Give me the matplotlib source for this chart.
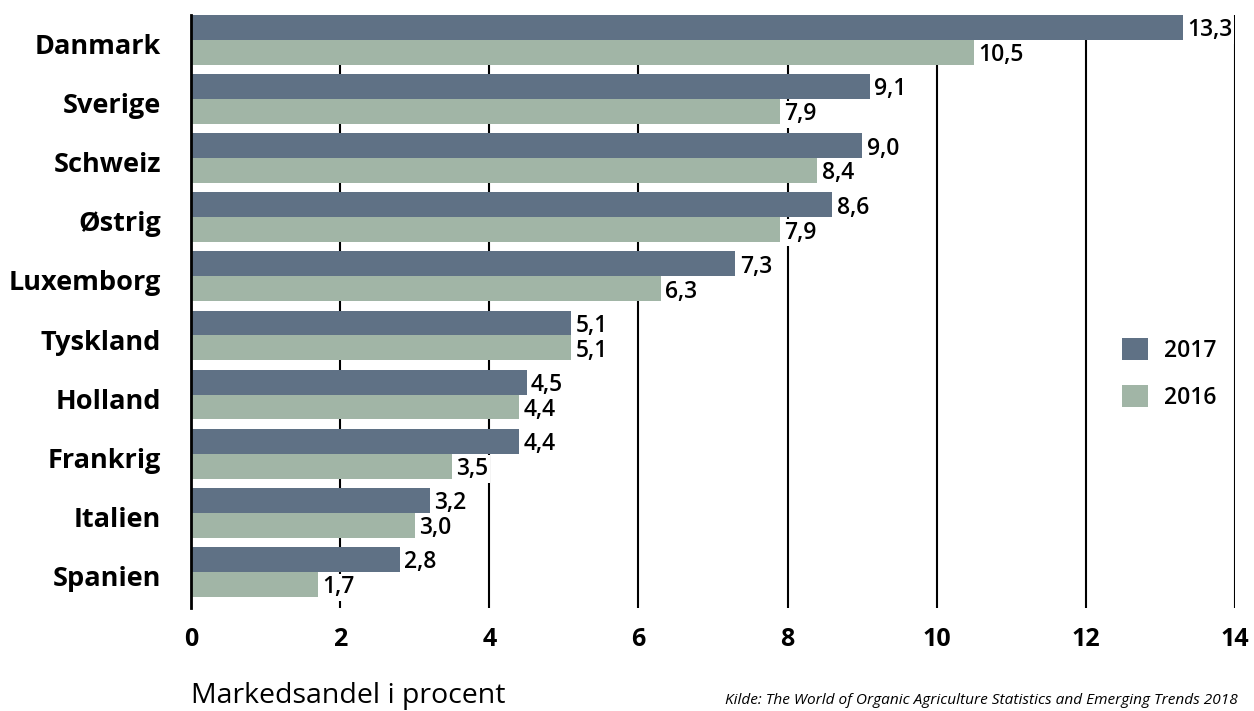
import numpy as np
import matplotlib.pyplot as plt

# data
countries = ["Danmark", "Sverige", "Schweiz", "Østrig", "Luxemborg",
             "Tyskland", "Holland", "Frankrig", "Italien", "Spanien"]
share_2017 = [13.3, 9.1, 9.0, 8.6, 7.3, 5.1, 4.5, 4.4, 3.2, 2.8]
share_2016 = [10.5, 7.9, 8.4, 7.9, 6.3, 5.1, 4.4, 3.5, 3.0, 1.7]
x_ticks = [0, 2, 4, 6, 8, 10, 12, 14]

col_2017 = "#5f7185"
col_2016 = "#a1b5a6"

plt.rcParams['font.family'] = ['Open Sans', 'DejaVu Sans']

fig = plt.figure(figsize=(12.54, 7.11), dpi=100)
ax = fig.add_axes([191 / 1254, 1 - 608 / 711, (1235 - 191) / 1254, (608 - 15) / 711])

y = np.arange(len(countries))
h = 0.42

# gridlines behind the bars
for xv in x_ticks[1:]:
    ax.axvline(xv, color="black", lw=1.5, zorder=0)

ax.barh(y - h / 2, share_2017, height=h, color=col_2017, label="2017", zorder=2)
ax.barh(y + h / 2, share_2016, height=h, color=col_2016, label="2016", zorder=2)

def fmt(v):
    return f"{v:.1f}".replace(".", ",")

# value labels with white boxes that hide the gridlines
for ys, vals in [(y - h / 2, share_2017), (y + h / 2, share_2016)]:
    for yi, v in zip(ys, vals):
        ax.text(v + 0.06, yi + 0.05, fmt(v), va="center", ha="left", fontsize=16.5,
                fontweight="semibold", zorder=3,
                bbox=dict(facecolor="white", edgecolor="none", pad=1.2))

ax.set_xlim(0, 14)
ax.set_ylim(len(countries) - 1 + h + 0.19, -h)
ax.set_xticks(x_ticks)
ax.set_xticklabels([str(t) for t in x_ticks], fontsize=18, fontweight="bold")
ax.set_yticks(y + 0.07)
ax.set_yticklabels(countries, fontsize=19.5, fontweight="bold")
ax.tick_params(axis="both", length=0)
ax.tick_params(axis="x", pad=14)
ax.tick_params(axis="y", pad=21.5)

for s in ["top", "right", "bottom"]:
    ax.spines[s].set_visible(False)
ax.spines["left"].set_linewidth(2)
ax.spines["left"].set_zorder(4)

leg = ax.legend(loc="center left", bbox_to_anchor=(1104 / 1254, 1 - 374 / 711),
                bbox_transform=fig.transFigure, frameon=True, fontsize=16.5,
                handlelength=1.1, handleheight=1.1, handletextpad=0.7,
                labelspacing=1.0, borderpad=0.3)
leg.get_frame().set_facecolor("white")
leg.get_frame().set_edgecolor("none")
leg.get_frame().set_alpha(1)
for t in leg.get_texts():
    t.set_fontweight("semibold")

fig.text(191 / 1254, 1 - 696 / 711, "Markedsandel i procent", fontsize=20.5,
         fontweight="medium", ha="left", va="center")
fig.text(1238 / 1254, 1 - 700 / 711,
         "Kilde: The World of Organic Agriculture Statistics and Emerging Trends 2018",
         fontsize=11.1, style="italic", ha="right", va="center")

fig.savefig("out.png", dpi=100, facecolor="white")
